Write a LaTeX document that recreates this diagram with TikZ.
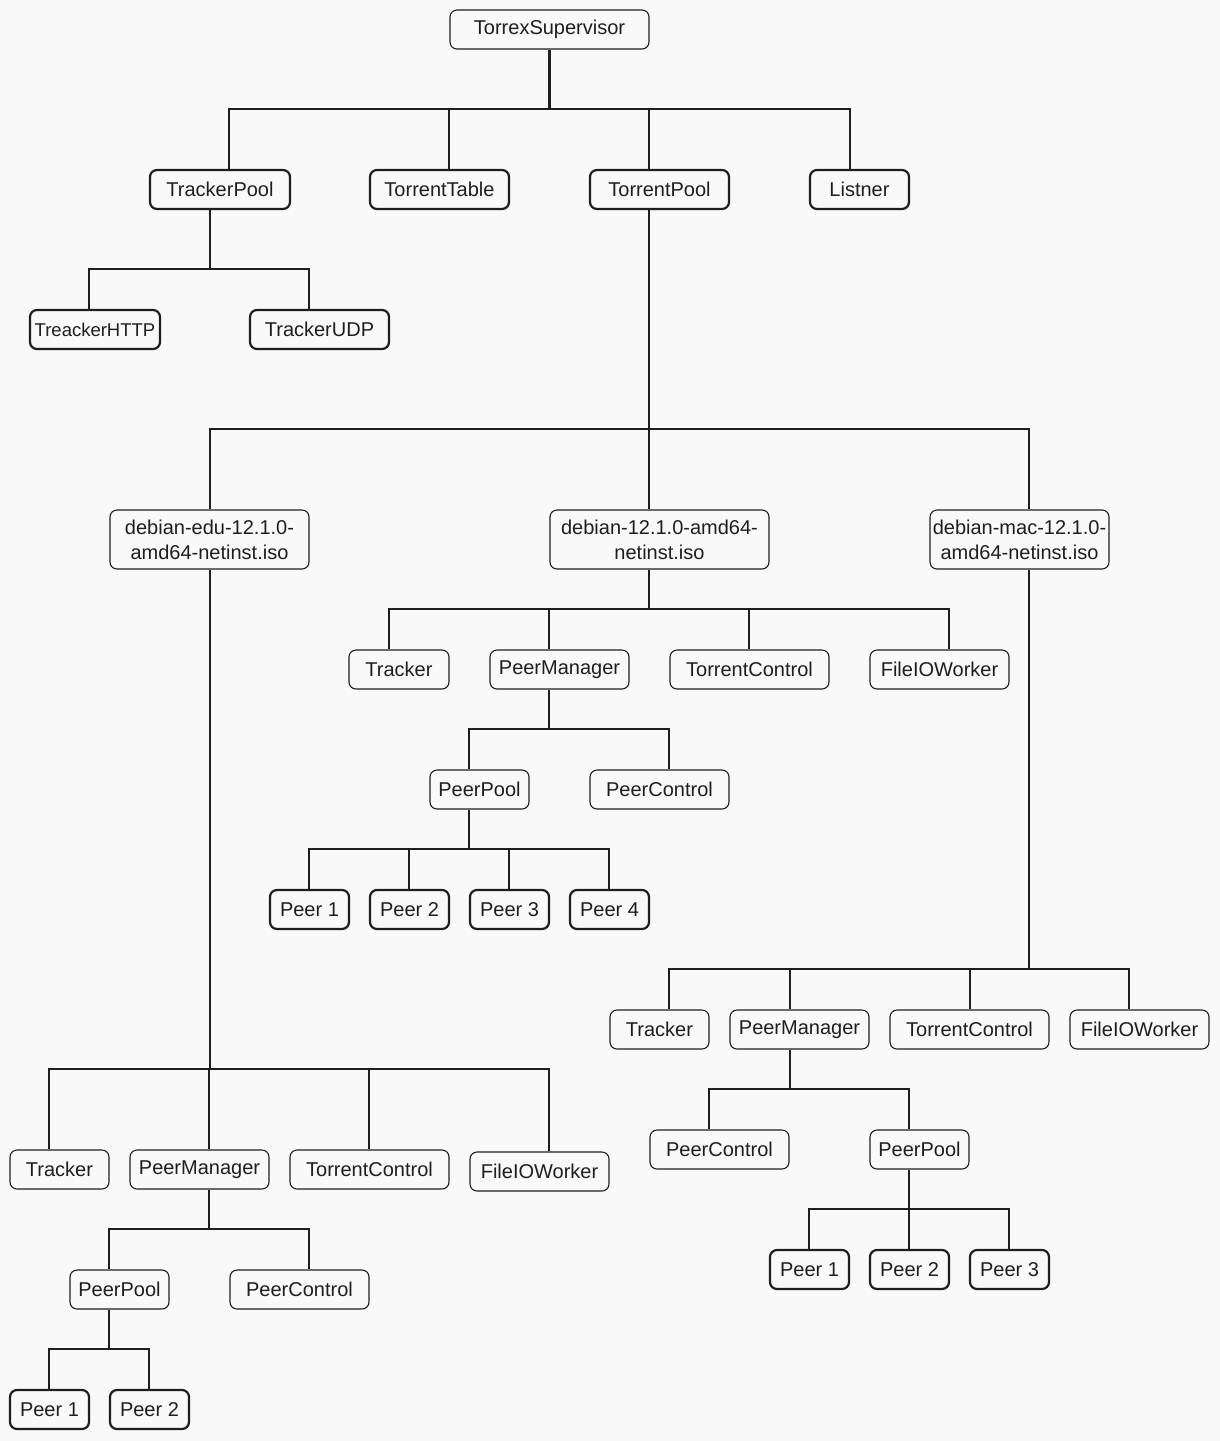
\documentclass[tikz,border=0pt]{standalone}
\usepackage{fontspec}
\setmainfont{Liberation Sans}
\definecolor{ink}{HTML}{1E1E1E}
\definecolor{paper}{HTML}{F9F9F9}
\begin{document}
\begin{tikzpicture}[x=1pt, y=-1pt,
	box/.style={draw=ink, text=ink, line width=1.1pt, rounded corners=7pt, minimum height=39pt, minimum width=#1pt, inner sep=0pt, align=center, font=\fontsize{20}{25}\selectfont},
	box/.default=139,
	bold box/.style={box=#1, line width=2.2pt},
	bold box/.default=139,
	link/.style={draw=ink, line width=2.6pt}]
	\fill[paper] (0,0) rectangle (1220,1441);
	\node[box=199] (sup) at (549.5,29.5) {TorrexSupervisor};
	\node[bold box=140] (trk) at (220,189.5) {TrackerPool};
	\node[bold box] (ttab) at (439.5,189.5) {TorrentTable};
	\node[bold box] (tor) at (659.5,189.5) {TorrentPool};
	\node[bold box=99] (lis) at (859.5,189.5) {Listner};
	\node[bold box=130, font=\fontsize{18.5}{23}\selectfont] (http) at (95,329.5) {TreackerHTTP};
	\node[bold box] (udp) at (319.5,329.5) {TrackerUDP};
	\node[box=199, minimum height=59pt] (edu) at (209.5,539.5) {debian-edu-12.1.0-\\amd64-netinst.iso};
	\node[box=219, minimum height=59pt] (mid) at (659.5,539.5) {debian-12.1.0-amd64-\\netinst.iso};
	\node[box=179, minimum height=59pt] (mac) at (1019.5,539.5) {debian-mac-12.1.0-\\amd64-netinst.iso};
	\node[box=100] (mtr) at (399,669.5) {Tracker};
	\node[box] (mpm) at (559.5,669.5) {PeerManager};
	\node[box=159] (mtc) at (749.5,669.5) {TorrentControl};
	\node[box] (mfio) at (939.5,669.5) {FileIOWorker};
	\node[box=99] (mpp) at (479.5,789.5) {PeerPool};
	\node[box] (mpc) at (659.5,789.5) {PeerControl};
	\foreach \n/\x in {1/309.5, 2/409.5, 3/509.5, 4/609.5}
		\node[bold box=79] (mp\n) at (\x,909.5) {Peer \n};
	\node[box=99] (ltr) at (59.5,1169.5) {Tracker};
	\node[box] (lpm) at (199.5,1169.5) {PeerManager};
	\node[box=159] (ltc) at (369.5,1169.5) {TorrentControl};
	\node[box] (lfio) at (539.5,1171.5) {FileIOWorker};
	\node[box=99] (lpp) at (119.5,1289.5) {PeerPool};
	\node[box] (lpc) at (299.5,1289.5) {PeerControl};
	\foreach \n/\x in {1/49.5, 2/149.5}
		\node[bold box=79] (lp\n) at (\x,1409.5) {Peer \n};
	\node[box=99] (rtr) at (659.5,1029.5) {Tracker};
	\node[box] (rpm) at (799.5,1029.5) {PeerManager};
	\node[box=159] (rtc) at (969.5,1029.5) {TorrentControl};
	\node[box] (rfio) at (1139.5,1029.5) {FileIOWorker};
	\node[box] (rpc) at (719.5,1149.5) {PeerControl};
	\node[box=99] (rpp) at (919.5,1149.5) {PeerPool};
	\foreach \n/\x in {1/809.5, 2/909.5, 3/1009.5}
		\node[bold box=79] (rp\n) at (\x,1269.5) {Peer \n};
	\coordinate (b1) at (549.5,109);
	\coordinate (b2) at (210,269);
	\coordinate (b3) at (649,429);
	\coordinate (b4) at (649,609);
	\coordinate (b5) at (549,729);
	\coordinate (b6) at (469,849);
	\coordinate (b7) at (210,1069);
	\coordinate (b8) at (209,1229);
	\coordinate (b9) at (109,1349);
	\coordinate (b10) at (1029,969);
	\coordinate (b11) at (790,1089);
	\coordinate (b12) at (909,1209);
	\draw[link] (sup.south) -- (b1);
	\draw[link] ([xshift=-10pt]trk.south) -- (b2);
	\draw[link] ([xshift=-10.5pt]tor.south) -- (b3);
	\draw[link] ([xshift=-10.5pt]mid.south) -- (b4);
	\draw[link] ([xshift=-10.5pt]mpm.south) -- (b5);
	\draw[link] ([xshift=-10.5pt]mpp.south) -- (b6);
	\draw[link] ([xshift=0.5pt]edu.south) -- (b7);
	\draw[link] ([xshift=9.5pt]lpm.south) -- (b8);
	\draw[link] ([xshift=-10.5pt]lpp.south) -- (b9);
	\draw[link] ([xshift=9.5pt]mac.south) -- (b10);
	\draw[link] ([xshift=-9.5pt]rpm.south) -- (b11);
	\draw[link] ([xshift=-10.5pt]rpp.south) -- (b12);
	\foreach \b/\c/\s in {b1/trk/9, b1/ttab/9.5, b1/tor/-10.5, b1/lis/-9.5,
		b2/http/-6, b2/udp/-10.5,
		b3/edu/0.5, b3/mid/-10.5, b3/mac/9.5,
		b4/mtr/-10, b4/mpm/-10.5, b4/mtc/-0.5, b4/mfio/9.5,
		b5/mpp/-10.5, b5/mpc/9.5,
		b6/mp1/-0.5, b6/mp2/-0.5, b6/mp3/-0.5, b6/mp4/-0.5,
		b7/ltr/-10.5, b7/lpm/9.5, b7/ltc/-0.5, b7/lfio/9.5,
		b8/lpp/-10.5, b8/lpc/9.5,
		b9/lp1/-0.5, b9/lp2/-0.5,
		b10/rtr/9.5, b10/rpm/-9.5, b10/rtc/0.5, b10/rfio/-10.5,
		b11/rpc/-10.5, b11/rpp/-10.5,
		b12/rp1/-0.5, b12/rp2/-0.5, b12/rp3/-0.5}
		\draw[link] (\b) -| ([xshift=\s pt]\c.north);
\end{tikzpicture}
\end{document}
